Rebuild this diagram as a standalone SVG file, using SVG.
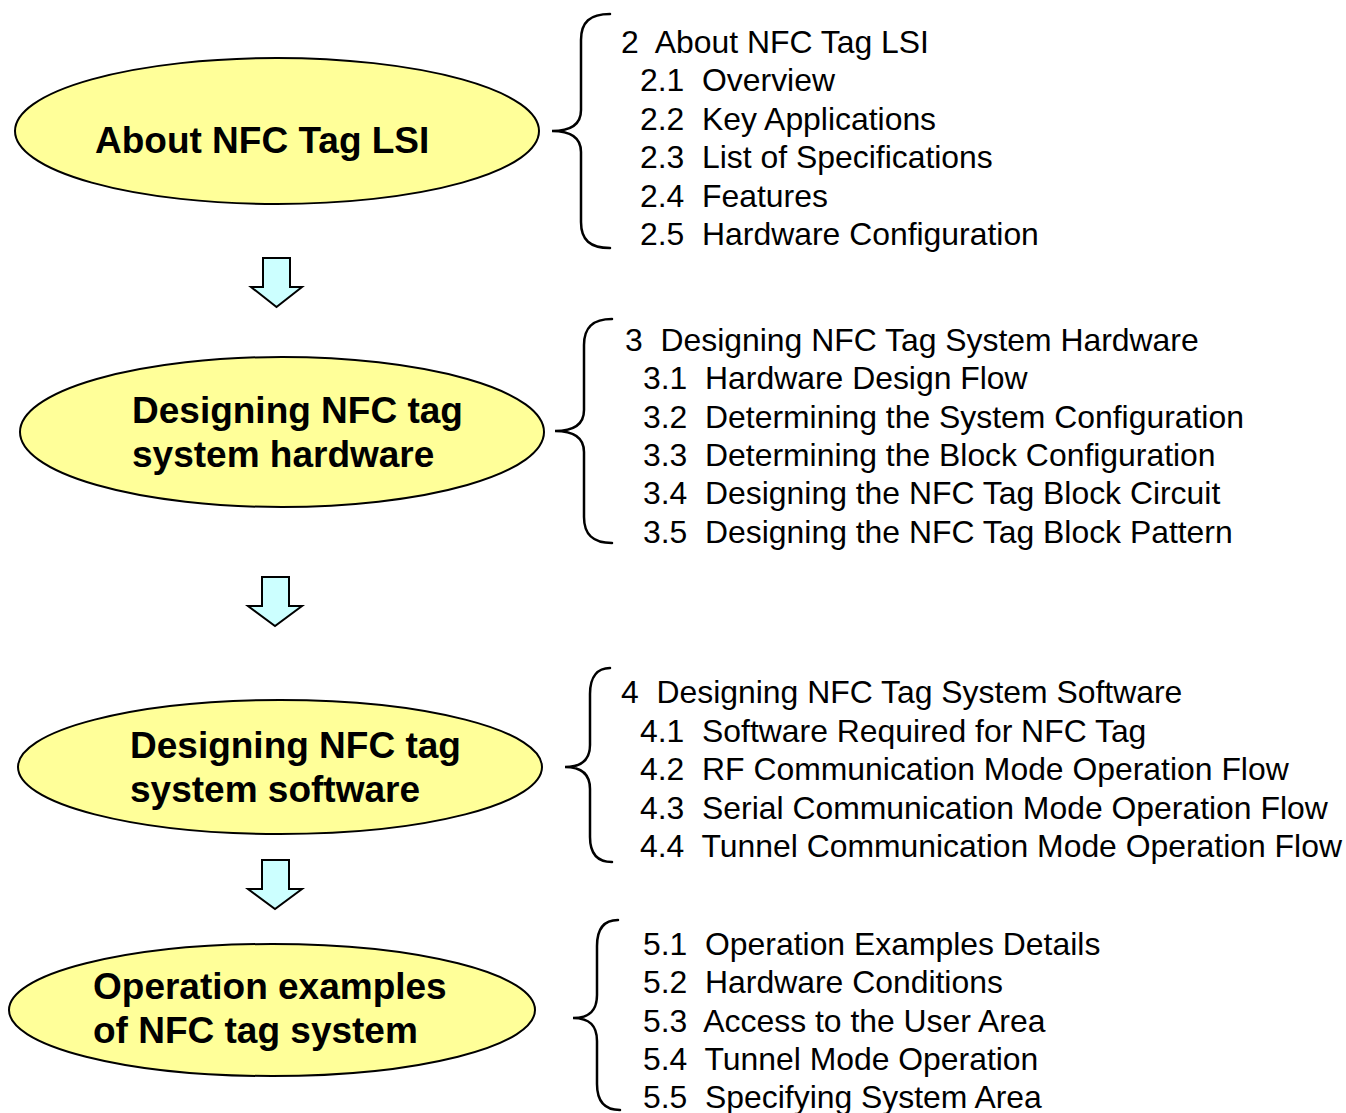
<svg xmlns="http://www.w3.org/2000/svg" width="1346" height="1113" viewBox="0 0 1346 1113">
  <style>
    .stage { fill: #FFFF99; stroke: #000; stroke-width: 2; }
    .stage-label { font-family: "Liberation Sans", Arial, sans-serif; font-size: 37px; font-weight: bold; fill: #000; }
    .toc { font-family: "Liberation Sans", Arial, sans-serif; font-size: 31.9px; fill: #000; white-space: pre; }
    .brace { fill: none; stroke: #000; stroke-width: 2.5; stroke-linecap: round; }
    .flow { fill: #CCFFFF; stroke: #000; stroke-width: 2; stroke-linejoin: miter; }
  </style>
  <rect width="1346" height="1113" fill="#fff"/>

  <!-- Stages -->
  <g id="stage-about">
    <ellipse class="stage" cx="277" cy="131" rx="262" ry="73"/>
    <text class="stage-label" x="95" y="153">About NFC Tag LSI</text>
  </g>
  <g id="stage-hardware">
    <ellipse class="stage" cx="282" cy="432" rx="262" ry="75"/>
    <text class="stage-label" x="132" y="423">Designing NFC tag</text>
    <text class="stage-label" x="132" y="467">system hardware</text>
  </g>
  <g id="stage-software">
    <ellipse class="stage" cx="280" cy="767" rx="262" ry="67"/>
    <text class="stage-label" x="130" y="758">Designing NFC tag</text>
    <text class="stage-label" x="130" y="802">system software</text>
  </g>
  <g id="stage-examples">
    <ellipse class="stage" cx="272" cy="1010" rx="263" ry="66"/>
    <text class="stage-label" x="93" y="999">Operation examples</text>
    <text class="stage-label" x="93" y="1043">of NFC tag system</text>
  </g>

  <!-- Flow arrows and braces -->
  <g id="connectors">
    <path class="flow" d="M263,258 H290 V287 H302 L276.5,307 L251,287 H263 Z"/>
    <path class="flow" d="M262,577 H289 V606 H302 L275,626 L248,606 H262 Z"/>
    <path class="flow" d="M262,860 H289 V889 H302 L275,909 L248,889 H262 Z"/>

    <path class="brace" d="M610,14 C590,14 581,22 581,40 L581,110 C581,124 572,131 552,131 C572,131 581,138 581,152 L581,222 C581,240 590,248 610,248"/>
    <path class="brace" d="M612,319 C593,319 584,327 584,345 L584,410 C584,424 575,431 555,431 C575,431 584,438 584,452 L584,517 C584,535 593,543 612,543"/>
    <path class="brace" d="M610,668 C598,668 590,676 590,694 L590,745 C590,759 583,767 565,767 C583,767 590,775 590,789 L590,837 C590,855 598,862 612,862"/>
    <path class="brace" d="M618,920 C605,920 597,928 597,946 L597,995 C597,1010 590,1018 573,1018 C590,1018 597,1026 597,1041 L597,1084 C597,1102 605,1110 620,1110"/>
  </g>

  <!-- Chapter contents -->
  <g id="toc-2">
    <text class="toc" x="621" y="53">2  About NFC Tag LSI</text>
    <text class="toc" x="640" y="91">2.1  Overview</text>
    <text class="toc" x="640" y="130">2.2  Key Applications</text>
    <text class="toc" x="640" y="168">2.3  List of Specifications</text>
    <text class="toc" x="640" y="207">2.4  Features</text>
    <text class="toc" x="640" y="245">2.5  Hardware Configuration</text>
  </g>
  <g id="toc-3">
    <text class="toc" x="625" y="351">3  Designing NFC Tag System Hardware</text>
    <text class="toc" x="643" y="389">3.1  Hardware Design Flow</text>
    <text class="toc" x="643" y="428">3.2  Determining the System Configuration</text>
    <text class="toc" x="643" y="466">3.3  Determining the Block Configuration</text>
    <text class="toc" x="643" y="504">3.4  Designing the NFC Tag Block Circuit</text>
    <text class="toc" x="643" y="543">3.5  Designing the NFC Tag Block Pattern</text>
  </g>
  <g id="toc-4">
    <text class="toc" x="621" y="703">4  Designing NFC Tag System Software</text>
    <text class="toc" x="640" y="742">4.1  Software Required for NFC Tag</text>
    <text class="toc" x="640" y="780">4.2  RF Communication Mode Operation Flow</text>
    <text class="toc" x="640" y="819">4.3  Serial Communication Mode Operation Flow</text>
    <text class="toc" x="640" y="857">4.4  Tunnel Communication Mode Operation Flow</text>
  </g>
  <g id="toc-5">
    <text class="toc" x="643" y="955">5.1  Operation Examples Details</text>
    <text class="toc" x="643" y="993">5.2  Hardware Conditions</text>
    <text class="toc" x="643" y="1032">5.3  Access to the User Area</text>
    <text class="toc" x="643" y="1070">5.4  Tunnel Mode Operation</text>
    <text class="toc" x="643" y="1108">5.5  Specifying System Area</text>
  </g>
</svg>
